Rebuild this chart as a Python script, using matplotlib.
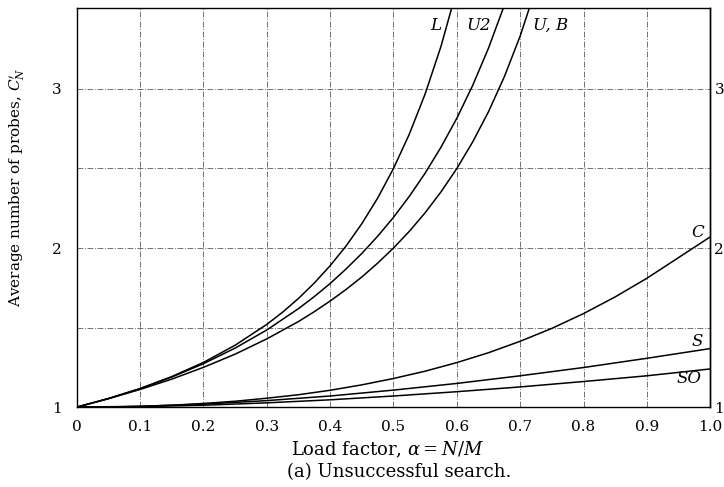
import numpy as np
import matplotlib.pyplot as plt

plt.rcParams['font.family'] = ['DejaVu Serif']
plt.rcParams['mathtext.fontset'] = 'dejavuserif'

# --- values (load factor -> average probes) ---
alpha_L = [0.0, 0.05, 0.1, 0.15, 0.2, 0.25, 0.3, 0.325, 0.35, 0.375, 0.4, 0.425, 0.45,
           0.475, 0.5, 0.525, 0.55, 0.575, 0.6]
probes_L = [1.0, 1.054, 1.117, 1.192, 1.281, 1.389, 1.520, 1.597, 1.683, 1.780, 1.889, 2.012, 2.153,
            2.314, 2.5, 2.716, 2.969, 3.268, 3.625]

alpha_U2 = [0.0, 0.05, 0.1, 0.15, 0.2, 0.25, 0.3, 0.35, 0.375, 0.4, 0.425, 0.45, 0.475, 0.5,
            0.525, 0.55, 0.575, 0.6, 0.625, 0.65, 0.675, 0.7]
probes_U2 = [1.0, 1.054, 1.116, 1.189, 1.273, 1.371, 1.485, 1.619, 1.695, 1.777, 1.868, 1.966, 2.074, 2.193,
             2.325, 2.471, 2.634, 2.816, 3.022, 3.257, 3.526, 3.837]

alpha_UB = [0.0, 0.05, 0.1, 0.15, 0.2, 0.25, 0.3, 0.35, 0.375, 0.4, 0.425, 0.45, 0.475, 0.5,
            0.525, 0.55, 0.575, 0.6, 0.625, 0.65, 0.675, 0.7, 0.725]
probes_UB = [1.0, 1.053, 1.111, 1.176, 1.25, 1.333, 1.429, 1.538, 1.6, 1.667, 1.739, 1.818, 1.905, 2.0,
             2.105, 2.222, 2.353, 2.5, 2.667, 2.857, 3.077, 3.333, 3.636]

alpha_C = [0.0, 0.05, 0.1, 0.15, 0.2, 0.25, 0.3, 0.35, 0.4, 0.45, 0.5, 0.55, 0.6, 0.65, 0.7,
           0.75, 0.8, 0.85, 0.9, 0.95, 1.0]
probes_C = [1.0, 1.001, 1.005, 1.012, 1.023, 1.037, 1.056, 1.078, 1.106, 1.140, 1.180, 1.226, 1.280,
            1.342, 1.414, 1.495, 1.588, 1.693, 1.810, 1.940, 2.07]

alpha_low = [0.0, 0.1, 0.2, 0.3, 0.4, 0.5, 0.6, 0.7, 0.8, 0.9, 1.0]
probes_S = [1.0, 1.005, 1.019, 1.041, 1.070, 1.107, 1.149, 1.197, 1.249, 1.307, 1.368]
probes_SO = [1.0, 1.003, 1.012, 1.027, 1.046, 1.070, 1.097, 1.127, 1.161, 1.197, 1.240]

x_ticks = [0.0, 0.1, 0.2, 0.3, 0.4, 0.5, 0.6, 0.7, 0.8, 0.9, 1.0]
x_labels = ['0', '0.1', '0.2', '0.3', '0.4', '0.5', '0.6', '0.7', '0.8', '0.9', '1.0']
y_ticks = [1, 2, 3]
x_grid = [0.1, 0.2, 0.3, 0.4, 0.5, 0.6, 0.7, 0.8, 0.9]
y_grid = [1.5, 2.0, 2.5, 3.0]

fig = plt.figure(figsize=(7.24, 4.87), dpi=100)
ax = fig.add_axes([0.106, 0.164, 0.875, 0.82])

grid_style = dict(color='black', lw=0.6, linestyle=(0, (7, 2, 1, 2)), alpha=0.65, zorder=1)
for gx in x_grid:
    ax.axvline(gx, **grid_style)
for gy in y_grid:
    ax.axhline(gy, **grid_style)

lw = 1.1
for xs, ys in [(alpha_L, probes_L), (alpha_U2, probes_U2), (alpha_UB, probes_UB),
               (alpha_C, probes_C), (alpha_low, probes_S), (alpha_low, probes_SO)]:
    ax.plot(xs, ys, color='black', lw=lw, zorder=2)

ax.set_xlim(0, 1.0)
ax.set_ylim(1, 3.51)

ax.set_xticks(x_ticks)
ax.set_xticklabels(x_labels)
ax.set_yticks(y_ticks)
ax.tick_params(length=0, labelsize=11)
ax.tick_params(axis='x', pad=9)
ax.tick_params(axis='y', pad=11)

right = ax.secondary_yaxis('right')
right.set_yticks(y_ticks)
right.tick_params(length=0, labelsize=11, pad=3)
right.spines['right'].set_linewidth(1.0)

for s in ax.spines.values():
    s.set_linewidth(1.0)

# curve labels
lbl = dict(fontsize=12, style='italic', ha='center', va='center')
ax.text(0.566, 3.40, 'L', **lbl)
ax.text(0.634, 3.40, 'U2', **lbl)
ax.text(0.748, 3.40, 'U, B', **lbl)
ax.text(0.98, 2.10, 'C', **lbl)
ax.text(0.98, 1.41, 'S', **lbl)
ax.text(0.966, 1.18, 'SO', **lbl)

ax.set_ylabel(r"Average number of probes, $C_N'$", fontsize=11, ha='center', va='center')
ax.yaxis.set_label_coords(-0.095, 0.55)
ax.set_xlabel(r"Load factor, $\alpha = N/M$", fontsize=13, ha='center', va='center')
ax.xaxis.set_label_coords(0.491, -0.108)
fig.text(0.551, 0.031, "(a) Unsuccessful search.", fontsize=13, ha='center', va='center')

fig.savefig('out.png', dpi=100)
